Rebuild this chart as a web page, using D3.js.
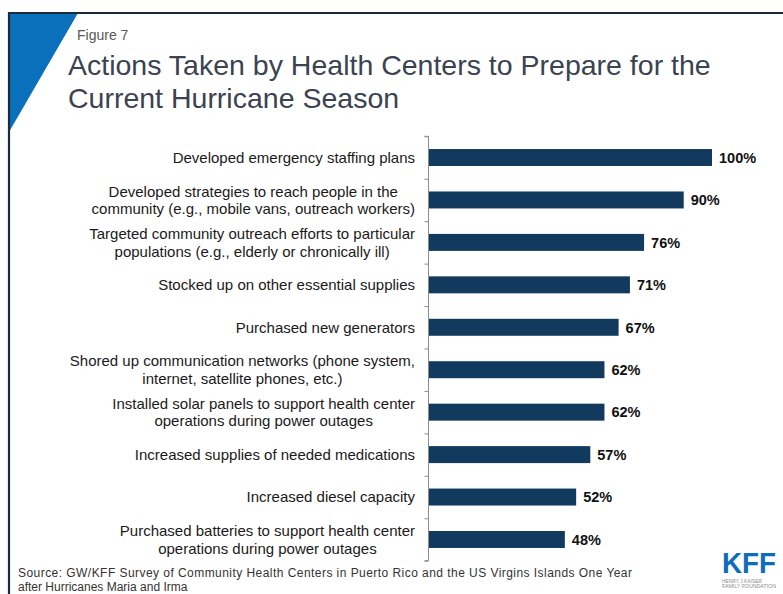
<!DOCTYPE html>
<html>
<head>
<meta charset="utf-8">
<script src="https://cdn.jsdelivr.net/npm/d3@7"></script>
<style>
  html, body { margin: 0; padding: 0; background: #ffffff; }
  svg { display: block; font-family: "Liberation Sans", Arial, sans-serif; }
</style>
</head>
<body>
<svg id="chart" width="783" height="594"></svg>
<script>
// Survey results: share of health centers taking each action (%)
const actions = [
  ["Developed emergency staffing plans"],
  ["Developed strategies to reach people in the", "community (e.g., mobile vans, outreach workers)"],
  ["Targeted community outreach efforts to particular", "populations (e.g., elderly or chronically ill)"],
  ["Stocked up on other essential supplies"],
  ["Purchased new generators"],
  ["Shored up communication networks (phone system,", "internet, satellite phones, etc.)"],
  ["Installed solar panels to support health center", "operations during power outages"],
  ["Increased supplies of needed medications"],
  ["Increased diesel capacity"],
  ["Purchased batteries to support health center", "operations during power outages"]
];
const shares = [100, 90, 76, 71, 67, 62, 62, 57, 52, 48];

const title = ["Actions Taken by Health Centers to Prepare for the", "Current Hurricane Season"];
const figureLabel = "Figure 7";
const sourceLines = [
  "Source: GW/KFF Survey of Community Health Centers in Puerto Rico and the US Virgins Islands One Year",
  "after Hurricanes Maria and Irma"
];

const svg = d3.select("#chart");
const W = 783, H = 594;

// Slide frame: dark rule along top and left, blue corner wedge
svg.append("path")
  .attr("d", `M9,13 L78,13 L9,132 Z`)
  .attr("fill", "#0b70bb");
svg.append("path")
  .attr("d", `M9,${H} L9,13 L${W},13`)
  .attr("fill", "none")
  .attr("stroke", "#1c2b3b")
  .attr("stroke-width", 2.2);

// Headings
svg.append("text")
  .attr("x", 77).attr("y", 40)
  .attr("font-size", 14)
  .attr("fill", "#595959")
  .text(figureLabel);

svg.append("g").selectAll("text")
  .data(title).join("text")
  .attr("x", 68)
  .attr("y", (d, i) => 75 + i * 32.5)
  .attr("font-size", 28.5)
  .attr("fill", "#3b4350")
  .text(d => d);

// Scales
const idx = d3.range(actions.length);
const y = d3.scaleBand()
  .domain(idx)
  .range([136.3, 560.7])
  .paddingInner(0.6)
  .paddingOuter(0.3);
const x = d3.scaleLinear().domain([0, 100]).range([429, 712]);

// Category axis with ticks between rows
const yEdges = d3.scaleLinear().domain([0, actions.length]).range([136.3, 560.7]);
const axisG = svg.append("g")
  .attr("transform", `translate(428.5,0)`)
  .call(d3.axisLeft(yEdges).tickValues(d3.range(actions.length + 1)).tickSize(4).tickFormat(""));
axisG.select(".domain").attr("stroke", "#8c8c8c").attr("d", `M-4,136.3H0V560.7H-4`);
axisG.selectAll(".tick line").attr("stroke", "#8c8c8c");

// Bars
svg.append("g").selectAll("rect")
  .data(shares).join("rect")
  .attr("x", x(0))
  .attr("y", (d, i) => y(i))
  .attr("width", d => x(d) - x(0))
  .attr("height", y.bandwidth())
  .attr("fill", "#123a5e");

// Value labels
svg.append("g").selectAll("text")
  .data(shares).join("text")
  .attr("x", d => x(d) + 7)
  .attr("y", (d, i) => y(i) + y.bandwidth() / 2)
  .attr("dy", "0.36em")
  .attr("font-size", 14.5)
  .attr("font-weight", "bold")
  .attr("fill", "#111111")
  .text(d => d + "%");

// Category labels: block right-aligned to the axis, lines centred within it
const labelRight = 415;
const lineH = 17.5;
const labG = svg.append("g");
actions.forEach((lines, i) => {
  const t = labG.append("text")
    .attr("text-anchor", "middle")
    .attr("font-size", 15)
    .attr("fill", "#1a1a1a")
    .attr("y", y(i) + y.bandwidth() / 2);
  const spans = lines.map((ln, j) => t.append("tspan")
    .attr("dy", j === 0 ? (-(lines.length - 1) * lineH / 2 / 15 + 0.36) + "em" : lineH / 15 + "em")
    .text(ln));
  const maxW = d3.max(spans, s => s.node().getComputedTextLength());
  spans.forEach(s => s.attr("x", labelRight - maxW / 2));
});

// Source note (first line set justified to the text box width)
svg.append("g").selectAll("text")
  .data(sourceLines).join("text")
  .attr("x", 18)
  .attr("y", (d, i) => 577 + i * 14)
  .attr("font-size", 12)
  .attr("fill", "#333333")
  .each(function(d, i) {
    if (i === 0) d3.select(this).attr("textLength", 614).attr("lengthAdjust", "spacing");
  })
  .text(d => d);

// Foundation logo
const logo = svg.append("g").attr("transform", "translate(722,552)");
logo.append("text")
  .attr("x", 0).attr("y", 21)
  .attr("font-size", 29)
  .attr("font-weight", "bold")
  .attr("fill", "#0f6cbd")
  .attr("textLength", 54)
  .attr("lengthAdjust", "spacingAndGlyphs")
  .text("KFF");
logo.selectAll("text.sub")
  .data(["HENRY J KAISER", "FAMILY FOUNDATION"]).join("text")
  .attr("class", "sub")
  .attr("x", 0)
  .attr("y", (d, i) => 31 + i * 5)
  .attr("font-size", 4.5)
  .attr("fill", "#8a8a8a")
  .attr("textLength", (d, i) => i ? 54 : 40)
  .attr("lengthAdjust", "spacingAndGlyphs")
  .text(d => d);
</script>
</body>
</html>
